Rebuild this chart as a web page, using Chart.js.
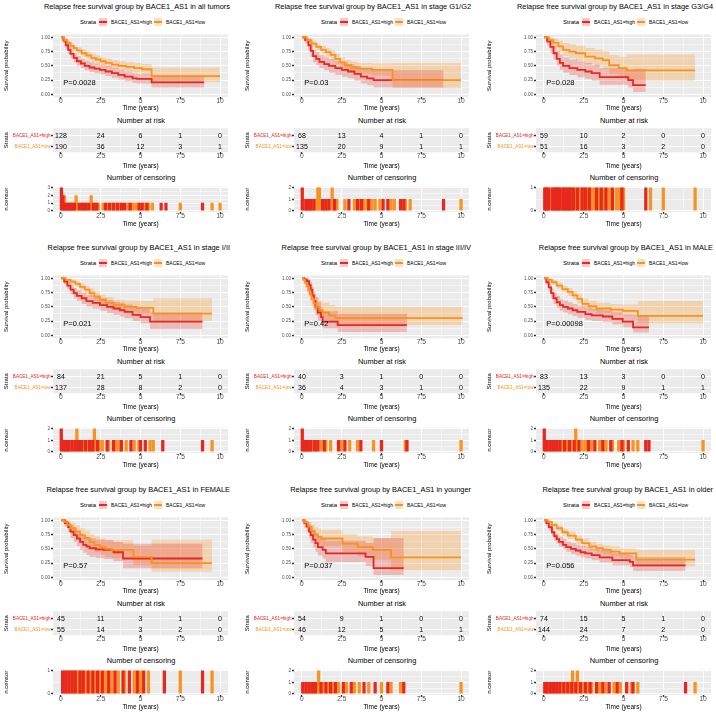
<!DOCTYPE html>
<html>
<head>
<meta charset="utf-8">
<title>Relapse free survival by BACE1_AS1</title>
<script src="https://cdn.jsdelivr.net/npm/chart.js@4.4.1/dist/chart.umd.min.js"></script>
<style>
  html, body { margin: 0; padding: 0; background: #fff; }
  body { position: relative; width: 716px; height: 715px; overflow: hidden;
         font-family: "Liberation Sans", Arial, Helvetica, sans-serif; color: #000; }
  canvas { position: absolute; }
  .txt { position: absolute; white-space: nowrap; line-height: 1; }
  .key { position: absolute; width: 8px; height: 8px; }
  .key i { position: absolute; left: 0; right: 0; top: 2.8px; height: 2.4px; }
</style>
</head>
<body>
<script>
// ---- data ----
const strataNames = ['BACE1_AS1=high', 'BACE1_AS1=low'];
const strataColors = ['#E8271E', '#F7931E'];
const bandColors = ['rgba(232,39,30,0.25)', 'rgba(247,147,30,0.28)'];

const panelTitles = [
  'Relapse free survival group by BACE1_AS1 in all tumors',
  'Relapse free survival group by BACE1_AS1 in stage G1/G2',
  'Relapse free survival group by BACE1_AS1 in stage G3/G4',
  'Relapse free survival group by BACE1_AS1 in stage I/II',
  'Relapse free survival group by BACE1_AS1 in stage III/IV',
  'Relapse free survival group by BACE1_AS1 in MALE',
  'Relapse free survival group by BACE1_AS1 in FEMALE',
  'Relapse free survival group by BACE1_AS1 in younger',
  'Relapse free survival group by BACE1_AS1 in older'
];
const pValues = ['P=0.0028', 'P=0.03', 'P=0.028', 'P=0.021', 'P=0.42', 'P=0.00098', 'P=0.57', 'P=0.037', 'P=0.056'];

const timeTicks = [0, 2.5, 5, 7.5, 10];
const timeGrid = [0, 1.25, 2.5, 3.75, 5, 6.25, 7.5, 8.75, 10];
const survGrid = [0, 0.125, 0.25, 0.375, 0.5, 0.625, 0.75, 0.875, 1];

const riskHigh = [[128, 24, 6, 1, 0], [68, 13, 4, 1, 0], [59, 10, 2, 0, 0], [84, 21, 5, 1, 0], [40, 3, 1, 0, 0],
                  [83, 13, 3, 0, 0], [45, 11, 3, 1, 0], [54, 9, 1, 0, 0], [74, 15, 5, 1, 0]];
const riskLow = [[190, 36, 12, 3, 1], [135, 20, 9, 1, 1], [51, 16, 3, 2, 0], [137, 28, 8, 2, 0], [36, 4, 3, 1, 0],
                 [135, 22, 9, 1, 1], [55, 14, 3, 2, 0], [46, 12, 5, 1, 1], [144, 24, 7, 2, 0]];

// Kaplan-Meier steps: time, survival, lower and upper confidence limits
const highT = [
  [0, 0.15, 0.3, 0.45, 0.6, 0.8, 1.0, 1.25, 1.5, 1.8, 2.1, 2.45, 2.8, 3.2, 3.6, 4.0, 4.5, 4.8, 5.7, 9.0],
  [0, 0.2, 0.4, 0.55, 0.7, 0.9, 1.1, 1.4, 1.7, 2.1, 2.5, 2.9, 3.3, 3.7, 4.1, 4.5, 8.9],
  [0, 0.2, 0.4, 0.6, 0.8, 1.0, 1.2, 1.6, 2.1, 2.6, 3.0, 3.5, 5.3, 5.6, 6.4],
  [0, 0.2, 0.4, 0.6, 0.8, 1.0, 1.3, 1.6, 2.0, 2.45, 2.9, 3.3, 3.7, 4.0, 4.5, 5.0, 5.6, 8.9],
  [0, 0.15, 0.3, 0.45, 0.55, 0.65, 0.75, 0.85, 1.0, 1.2, 1.3, 2.25, 6.6],
  [0, 0.15, 0.3, 0.45, 0.6, 0.8, 1.0, 1.2, 1.5, 1.8, 2.1, 2.6, 3.0, 3.7, 4.3, 4.95, 5.6, 6.6],
  [0, 0.25, 0.45, 0.6, 0.8, 1.0, 1.2, 1.4, 1.6, 1.8, 2.2, 2.7, 3.3, 3.9, 8.9],
  [0, 0.15, 0.3, 0.45, 0.55, 0.7, 0.85, 1.0, 1.3, 1.5, 4.0, 4.5, 6.4],
  [0, 0.15, 0.3, 0.5, 0.65, 0.8, 0.95, 1.2, 1.4, 1.7, 2.0, 2.3, 2.6, 3.0, 3.5, 4.3, 5.4, 5.6, 8.9]
];
const highS = [
  [1, 0.94, 0.86, 0.78, 0.71, 0.64, 0.58, 0.54, 0.50, 0.47, 0.45, 0.43, 0.40, 0.37, 0.34, 0.31, 0.28, 0.27, 0.21, 0.21],
  [1, 0.95, 0.86, 0.76, 0.67, 0.62, 0.57, 0.53, 0.50, 0.46, 0.43, 0.40, 0.36, 0.31, 0.28, 0.25, 0.25],
  [1, 0.93, 0.83, 0.72, 0.62, 0.55, 0.50, 0.46, 0.43, 0.40, 0.37, 0.30, 0.25, 0.16, 0.16],
  [1, 0.94, 0.87, 0.80, 0.74, 0.69, 0.65, 0.60, 0.57, 0.53, 0.50, 0.47, 0.44, 0.41, 0.36, 0.32, 0.24, 0.24],
  [1, 0.98, 0.95, 0.88, 0.80, 0.70, 0.60, 0.50, 0.40, 0.32, 0.24, 0.18, 0.18],
  [1, 0.93, 0.84, 0.74, 0.65, 0.58, 0.53, 0.50, 0.47, 0.44, 0.41, 0.37, 0.35, 0.33, 0.29, 0.24, 0.14, 0.14],
  [1, 0.95, 0.88, 0.80, 0.74, 0.68, 0.62, 0.57, 0.54, 0.51, 0.49, 0.48, 0.44, 0.33, 0.33],
  [1, 0.95, 0.89, 0.80, 0.74, 0.66, 0.60, 0.53, 0.48, 0.42, 0.36, 0.16, 0.16],
  [1, 0.95, 0.88, 0.79, 0.72, 0.67, 0.62, 0.57, 0.53, 0.50, 0.47, 0.44, 0.42, 0.39, 0.35, 0.30, 0.27, 0.21, 0.21]
];
const highLo = [
  [1, 0.90, 0.80, 0.71, 0.63, 0.56, 0.50, 0.46, 0.42, 0.39, 0.37, 0.35, 0.32, 0.29, 0.26, 0.23, 0.20, 0.19, 0.12, 0.12],
  [1, 0.89, 0.78, 0.66, 0.56, 0.51, 0.46, 0.42, 0.38, 0.34, 0.31, 0.28, 0.24, 0.19, 0.16, 0.12, 0.12],
  [1, 0.86, 0.73, 0.61, 0.50, 0.43, 0.38, 0.34, 0.30, 0.27, 0.24, 0.17, 0.12, 0.04, 0.04],
  [1, 0.89, 0.81, 0.72, 0.65, 0.60, 0.55, 0.50, 0.47, 0.43, 0.39, 0.36, 0.33, 0.30, 0.25, 0.21, 0.11, 0.11],
  [1, 0.93, 0.88, 0.78, 0.68, 0.56, 0.45, 0.35, 0.25, 0.18, 0.12, 0.06, 0.06],
  [1, 0.88, 0.76, 0.65, 0.55, 0.48, 0.43, 0.40, 0.37, 0.34, 0.31, 0.27, 0.25, 0.23, 0.19, 0.14, 0.05, 0.05],
  [1, 0.89, 0.79, 0.69, 0.62, 0.55, 0.48, 0.43, 0.39, 0.36, 0.34, 0.32, 0.28, 0.16, 0.16],
  [1, 0.87, 0.79, 0.68, 0.60, 0.52, 0.45, 0.38, 0.33, 0.27, 0.20, 0.04, 0.04],
  [1, 0.91, 0.82, 0.72, 0.64, 0.59, 0.54, 0.49, 0.45, 0.41, 0.38, 0.35, 0.33, 0.30, 0.26, 0.21, 0.18, 0.11, 0.11]
];
const highHi = [
  [1, 0.98, 0.92, 0.85, 0.79, 0.72, 0.67, 0.63, 0.59, 0.56, 0.54, 0.52, 0.49, 0.46, 0.43, 0.40, 0.37, 0.36, 0.33, 0.33],
  [1, 1.0, 0.95, 0.86, 0.78, 0.74, 0.69, 0.65, 0.62, 0.58, 0.56, 0.53, 0.50, 0.46, 0.44, 0.42, 0.42],
  [1, 1.0, 0.94, 0.85, 0.76, 0.70, 0.65, 0.61, 0.58, 0.55, 0.52, 0.46, 0.43, 0.45, 0.45],
  [1, 0.99, 0.94, 0.88, 0.83, 0.79, 0.75, 0.71, 0.68, 0.65, 0.62, 0.59, 0.57, 0.54, 0.50, 0.46, 0.40, 0.40],
  [1, 1.0, 1.0, 0.98, 0.93, 0.85, 0.76, 0.67, 0.58, 0.50, 0.42, 0.38, 0.38],
  [1, 0.98, 0.91, 0.83, 0.75, 0.69, 0.64, 0.61, 0.58, 0.55, 0.52, 0.48, 0.46, 0.44, 0.40, 0.36, 0.35, 0.35],
  [1, 1.0, 0.97, 0.92, 0.87, 0.82, 0.77, 0.73, 0.70, 0.68, 0.66, 0.65, 0.62, 0.59, 0.59],
  [1, 1.0, 0.98, 0.93, 0.89, 0.83, 0.78, 0.73, 0.69, 0.64, 0.60, 0.69, 0.69],
  [1, 0.99, 0.94, 0.87, 0.80, 0.76, 0.71, 0.67, 0.63, 0.60, 0.57, 0.55, 0.53, 0.50, 0.47, 0.42, 0.39, 0.35, 0.35]
];

const lowT = [
  [0, 0.2, 0.4, 0.6, 0.8, 1.0, 1.3, 1.6, 1.9, 2.2, 2.5, 2.8, 3.2, 3.6, 4.1, 4.6, 5.1, 5.7, 10.0],
  [0, 0.3, 0.6, 0.9, 1.2, 1.5, 1.8, 2.1, 2.4, 2.7, 3.1, 3.5, 4.4, 5.7, 10.0],
  [0, 0.3, 0.6, 0.9, 1.2, 1.6, 2.0, 2.6, 3.2, 3.7, 4.1, 4.7, 5.2, 9.5],
  [0, 0.3, 0.6, 0.9, 1.2, 1.5, 1.8, 2.1, 2.45, 2.8, 3.3, 4.0, 4.75, 5.8, 9.5],
  [0, 0.1, 0.2, 0.3, 0.4, 0.5, 0.6, 0.75, 0.9, 1.1, 1.3, 1.7, 2.1, 10.1],
  [0, 0.25, 0.5, 0.8, 1.15, 1.5, 1.8, 2.1, 2.4, 2.8, 3.3, 4.2, 4.95, 5.9, 10.0],
  [0, 0.2, 0.4, 0.6, 0.9, 1.2, 1.5, 1.8, 2.1, 2.45, 2.8, 3.2, 4.55, 5.7, 9.5],
  [0, 0.2, 0.4, 0.6, 0.8, 1.0, 1.2, 2.55, 3.5, 4.45, 5.6, 10.0],
  [0, 0.25, 0.5, 0.8, 1.15, 1.5, 2.0, 2.4, 2.85, 3.3, 3.7, 4.2, 4.75, 5.8, 9.5]
];
const lowS = [
  [1, 0.95, 0.90, 0.85, 0.81, 0.77, 0.72, 0.68, 0.64, 0.61, 0.58, 0.55, 0.52, 0.50, 0.48, 0.46, 0.44, 0.32, 0.32],
  [1, 0.95, 0.89, 0.83, 0.78, 0.74, 0.69, 0.62, 0.56, 0.51, 0.47, 0.45, 0.43, 0.25, 0.25],
  [1, 0.95, 0.90, 0.84, 0.78, 0.75, 0.72, 0.66, 0.63, 0.60, 0.51, 0.46, 0.42, 0.42],
  [1, 0.97, 0.94, 0.90, 0.85, 0.80, 0.74, 0.68, 0.62, 0.57, 0.53, 0.50, 0.48, 0.38, 0.38],
  [1, 0.97, 0.92, 0.86, 0.79, 0.72, 0.64, 0.56, 0.49, 0.44, 0.40, 0.35, 0.30, 0.30],
  [1, 0.97, 0.93, 0.87, 0.81, 0.76, 0.70, 0.64, 0.55, 0.51, 0.47, 0.45, 0.43, 0.34, 0.34],
  [1, 0.97, 0.92, 0.86, 0.80, 0.74, 0.69, 0.62, 0.57, 0.53, 0.50, 0.48, 0.36, 0.25, 0.25],
  [1, 0.96, 0.89, 0.81, 0.75, 0.71, 0.68, 0.59, 0.53, 0.48, 0.35, 0.35],
  [1, 0.97, 0.92, 0.86, 0.79, 0.73, 0.66, 0.60, 0.54, 0.51, 0.48, 0.45, 0.42, 0.31, 0.31]
];
const lowLo = [
  [1, 0.92, 0.86, 0.80, 0.75, 0.71, 0.66, 0.61, 0.57, 0.54, 0.51, 0.48, 0.45, 0.42, 0.40, 0.38, 0.36, 0.21, 0.21],
  [1, 0.91, 0.84, 0.77, 0.71, 0.66, 0.61, 0.54, 0.48, 0.43, 0.38, 0.36, 0.33, 0.11, 0.11],
  [1, 0.89, 0.82, 0.74, 0.67, 0.63, 0.59, 0.53, 0.49, 0.45, 0.36, 0.31, 0.24, 0.24],
  [1, 0.94, 0.90, 0.85, 0.79, 0.73, 0.67, 0.60, 0.54, 0.49, 0.44, 0.40, 0.38, 0.25, 0.25],
  [1, 0.92, 0.84, 0.76, 0.68, 0.60, 0.51, 0.43, 0.36, 0.31, 0.27, 0.22, 0.18, 0.18],
  [1, 0.94, 0.89, 0.82, 0.75, 0.69, 0.63, 0.56, 0.47, 0.43, 0.39, 0.36, 0.34, 0.21, 0.21],
  [1, 0.92, 0.85, 0.77, 0.70, 0.63, 0.57, 0.50, 0.44, 0.40, 0.36, 0.34, 0.21, 0.10, 0.10],
  [1, 0.89, 0.80, 0.70, 0.63, 0.58, 0.55, 0.44, 0.37, 0.31, 0.12, 0.12],
  [1, 0.94, 0.88, 0.81, 0.73, 0.67, 0.59, 0.53, 0.47, 0.43, 0.40, 0.37, 0.34, 0.19, 0.19]
];
const lowHi = [
  [1, 0.98, 0.94, 0.90, 0.86, 0.83, 0.79, 0.75, 0.71, 0.68, 0.65, 0.63, 0.60, 0.58, 0.56, 0.55, 0.53, 0.47, 0.47],
  [1, 0.99, 0.94, 0.89, 0.85, 0.81, 0.77, 0.71, 0.65, 0.60, 0.57, 0.55, 0.54, 0.55, 0.55],
  [1, 1.0, 0.98, 0.94, 0.90, 0.88, 0.85, 0.81, 0.78, 0.76, 0.69, 0.66, 0.70, 0.70],
  [1, 1.0, 0.98, 0.95, 0.91, 0.87, 0.82, 0.77, 0.71, 0.67, 0.63, 0.61, 0.60, 0.65, 0.65],
  [1, 1.0, 1.0, 0.97, 0.92, 0.86, 0.79, 0.72, 0.66, 0.61, 0.57, 0.53, 0.50, 0.50],
  [1, 1.0, 0.97, 0.92, 0.87, 0.83, 0.77, 0.72, 0.64, 0.60, 0.57, 0.55, 0.54, 0.60, 0.60],
  [1, 1.0, 0.99, 0.95, 0.91, 0.86, 0.82, 0.76, 0.72, 0.68, 0.66, 0.65, 0.55, 0.66, 0.66],
  [1, 1.0, 0.97, 0.92, 0.88, 0.85, 0.83, 0.76, 0.72, 0.68, 0.81, 0.81],
  [1, 1.0, 0.96, 0.91, 0.85, 0.80, 0.73, 0.68, 0.62, 0.59, 0.56, 0.54, 0.51, 0.48, 0.48]
];

// censoring events: time and count for each group
const censorMax = [3, 2, 1, 2, 2, 2, 1, 2, 2];
const censorHighT = [
  [0.03, 0.12, 0.25, 0.4, 0.55, 0.7, 0.85, 1.15, 1.35, 1.55, 1.75, 2.05, 2.25, 2.8, 3.05, 3.3, 3.55, 3.8, 4.0, 4.35, 4.9, 5.1, 5.4, 6.3, 6.6, 8.9],
  [0.02, 0.25, 0.4, 0.55, 0.75, 1.3, 1.5, 1.7, 2.05, 2.95, 3.5, 3.75, 4.2, 5.1, 5.4, 6.2, 6.4, 8.9],
  [0.05, 0.15, 0.3, 0.55, 0.7, 0.8, 0.9, 1.0, 1.2, 1.35, 1.5, 1.65, 1.85, 2.1, 2.4, 2.6, 2.85, 3.3, 3.6, 3.9, 4.3, 4.9, 6.4],
  [0.02, 0.2, 0.35, 0.5, 0.7, 0.9, 1.1, 1.3, 1.55, 1.8, 2.0, 2.3, 2.9, 3.3, 3.8, 4.4, 5.0, 5.3, 6.4, 8.9],
  [0.02, 0.2, 0.35, 0.55, 0.8, 1.0, 1.4, 2.3, 2.7, 3.7, 5.0, 6.6],
  [0.02, 0.2, 0.4, 0.6, 0.8, 1.0, 1.3, 1.6, 1.9, 2.2, 2.8, 3.2, 3.7, 4.2, 4.9, 5.3, 6.4, 6.6],
  [0.1, 0.3, 0.5, 0.7, 0.9, 1.2, 1.4, 1.7, 2.0, 2.3, 2.6, 3.0, 3.4, 3.9, 4.3, 4.8, 5.2, 6.5, 8.9],
  [0.05, 0.25, 0.45, 0.65, 0.85, 1.2, 1.5, 1.8, 2.1, 2.6, 3.1, 3.9, 4.6, 5.4, 6.4],
  [0.05, 0.2, 0.4, 0.6, 0.8, 1.0, 1.25, 1.5, 1.75, 2.0, 2.3, 2.6, 2.9, 3.3, 3.7, 4.1, 4.6, 5.2, 5.6, 8.9]
];
const censorHighN = [
  [3, 2, 1, 1, 1, 1, 1, 1, 1, 1, 1, 1, 1, 1, 1, 1, 1, 1, 1, 1, 1, 1, 1, 1, 1, 1],
  [2, 1, 1, 1, 1, 1, 1, 1, 1, 1, 1, 1, 1, 1, 1, 1, 1, 1],
  [1, 1, 1, 1, 1, 1, 1, 1, 1, 1, 1, 1, 1, 1, 1, 1, 1, 1, 1, 1, 1, 1, 1],
  [2, 1, 1, 1, 1, 1, 1, 1, 1, 1, 1, 1, 1, 1, 1, 1, 1, 1, 1, 1],
  [2, 1, 1, 1, 1, 1, 1, 1, 1, 1, 1, 1],
  [2, 1, 1, 1, 1, 1, 1, 1, 1, 1, 1, 1, 1, 1, 1, 1, 1, 1],
  [1, 1, 1, 1, 1, 1, 1, 1, 1, 1, 1, 1, 1, 1, 1, 1, 1, 1, 1],
  [1, 1, 1, 1, 1, 1, 1, 1, 1, 1, 1, 1, 1, 1, 1],
  [1, 1, 1, 1, 1, 1, 1, 1, 1, 1, 1, 1, 1, 1, 1, 1, 1, 1, 1, 1]
];
const censorLowT = [
  [0.22, 0.32, 0.48, 0.62, 0.78, 0.95, 1.05, 1.25, 1.45, 1.65, 1.9, 2.0, 2.15, 2.35, 2.65, 2.95, 3.2, 3.45, 3.7, 4.2, 4.5, 4.7, 5.0, 5.25, 5.5, 5.75, 7.5, 9.5, 10.0],
  [0.15, 0.3, 0.5, 0.65, 0.85, 1.0, 1.1, 1.2, 1.4, 1.6, 1.9, 2.0, 2.2, 2.7, 3.3, 3.6, 3.9, 4.1, 4.4, 4.6, 4.9, 5.6, 5.8, 6.5, 6.8, 10.0],
  [0.1, 0.2, 0.4, 0.6, 1.1, 1.25, 1.45, 1.6, 1.75, 1.95, 2.2, 2.3, 2.5, 2.7, 2.95, 3.1, 3.45, 3.75, 4.1, 4.55, 4.75, 5.0, 6.7, 7.5, 9.5],
  [0.1, 0.28, 0.45, 0.6, 0.8, 1.0, 1.2, 1.4, 1.65, 1.9, 2.1, 2.4, 2.6, 3.0, 3.5, 3.7, 4.1, 4.6, 4.9, 5.6, 5.8, 9.5],
  [0.1, 0.25, 0.45, 0.65, 0.9, 1.2, 1.5, 1.8, 2.5, 3.0, 3.5, 4.5, 6.5, 10.0],
  [0.1, 0.3, 0.5, 0.7, 0.9, 1.1, 1.25, 1.45, 1.7, 2.0, 2.1, 2.4, 2.6, 3.0, 3.5, 3.9, 4.3, 4.7, 5.0, 5.6, 5.9, 10.0],
  [0.2, 0.4, 0.6, 0.8, 1.0, 1.1, 1.3, 1.5, 1.8, 2.1, 2.4, 2.8, 3.2, 3.6, 4.0, 4.6, 5.0, 5.5, 7.5, 9.5],
  [0.15, 0.35, 0.55, 0.75, 0.95, 1.05, 1.3, 1.6, 1.9, 2.3, 2.8, 3.3, 3.6, 4.2, 5.0, 5.6, 6.2, 10.0],
  [0.12, 0.3, 0.5, 0.7, 0.9, 1.1, 1.35, 1.6, 1.8, 2.1, 2.4, 2.75, 3.0, 3.5, 3.9, 4.4, 4.8, 5.5, 5.9, 9.5]
];
const censorLowN = [
  [2, 1, 1, 1, 1, 2, 1, 1, 1, 1, 2, 1, 1, 1, 1, 1, 1, 1, 1, 1, 1, 1, 1, 1, 1, 1, 1, 1, 1],
  [1, 1, 1, 1, 1, 2, 2, 1, 1, 1, 2, 1, 1, 1, 1, 1, 1, 1, 1, 1, 1, 1, 1, 1, 1, 1],
  [1, 1, 1, 1, 1, 1, 1, 1, 1, 1, 1, 1, 1, 1, 1, 1, 1, 1, 1, 1, 1, 1, 1, 1, 1],
  [1, 1, 1, 1, 1, 2, 1, 1, 1, 1, 2, 1, 1, 1, 1, 1, 1, 1, 1, 1, 1, 1],
  [1, 1, 1, 1, 1, 1, 1, 1, 1, 1, 1, 1, 1, 1],
  [1, 1, 1, 1, 1, 1, 1, 1, 1, 2, 1, 1, 1, 1, 1, 1, 1, 1, 1, 1, 1, 1],
  [1, 1, 1, 1, 1, 1, 1, 1, 1, 1, 1, 1, 1, 1, 1, 1, 1, 1, 1, 1],
  [1, 1, 1, 1, 1, 2, 1, 1, 1, 1, 1, 1, 1, 1, 1, 1, 1, 1],
  [1, 1, 1, 1, 1, 1, 1, 1, 2, 2, 1, 1, 1, 1, 1, 1, 1, 1, 1, 1]
];

// ---- layout ----
const FONT = '"Liberation Sans", Arial, Helvetica, sans-serif';
Chart.defaults.font.family = FONT;
const colX = [0, 241, 483];
const rowY = [0, 241, 483];
const keyX = [99, 154];

const panelBg = {
  id: 'panelBg',
  beforeDraw(chart) {
    const a = chart.chartArea, ctx = chart.ctx;
    ctx.save();
    ctx.fillStyle = '#EBEBEB';
    ctx.fillRect(a.left, a.top, a.right - a.left, a.bottom - a.top);
    ctx.restore();
  }
};

// writes ds.texts at each point of a dataset (risk numbers, p-value)
const pointTexts = {
  id: 'pointTexts',
  afterDatasetsDraw(chart) {
    const ctx = chart.ctx;
    chart.data.datasets.forEach((ds, di) => {
      if (!ds.texts) return;
      const meta = chart.getDatasetMeta(di);
      ctx.save();
      ctx.font = ds.textFont;
      ctx.fillStyle = ds.textColor;
      ctx.textAlign = ds.textAlign || 'center';
      ctx.textBaseline = 'middle';
      meta.data.forEach((pt, k) => ctx.fillText(String(ds.texts[k]), pt.x, pt.y));
      ctx.restore();
    });
  }
};

function addText(str, x, y, size, align, color) {
  const d = document.createElement('div');
  d.className = 'txt';
  d.textContent = str;
  d.style.fontSize = size + 'px';
  d.style.left = x + 'px';
  d.style.top = y + 'px';
  const tx = align === 'center' ? '-50%' : align === 'right' ? '-100%' : '0';
  d.style.transform = 'translate(' + tx + ', -50%)';
  if (color) d.style.color = color;
  document.body.appendChild(d);
}

function addKey(x, y, s) {
  const k = document.createElement('div');
  k.className = 'key';
  k.style.left = x + 'px';
  k.style.top = (y - 4) + 'px';
  k.style.background = bandColors[s];
  const line = document.createElement('i');
  line.style.background = strataColors[s];
  k.appendChild(line);
  document.body.appendChild(k);
}

function makeCanvas(x, y, w, h) {
  const c = document.createElement('canvas');
  c.width = w; c.height = h;
  c.style.left = x + 'px'; c.style.top = y + 'px';
  c.style.width = w + 'px'; c.style.height = h + 'px';
  document.body.appendChild(c);
  return c;
}

const tv = c => (c.tick ? c.tick.value : 0);
function gridOpts(isMajor) {
  return {
    color: '#FFFFFF',
    lineWidth: c => (isMajor(tv(c)) ? 1 : 0.5),
    tickLength: 2,
    tickWidth: c => (isMajor(tv(c)) ? 1.4 : 0),
    tickColor: c => (isMajor(tv(c)) ? '#333333' : 'rgba(0,0,0,0)')
  };
}
const isTimeMajor = v => timeTicks.includes(v);

function timeAxis(height, titlePad) {
  return {
    type: 'linear', min: -0.5, max: 10.5, offset: false,
    afterBuildTicks: s => { s.ticks = timeGrid.map(v => ({ value: v })); },
    afterFit: s => { s.height = height; },
    grid: Object.assign(gridOpts(isTimeMajor), { offset: false }),
    border: { display: false },
    ticks: { font: { size: 6.6, lineHeight: 1 }, color: '#4D4D4D', padding: -1.5,
             autoSkip: false, minRotation: 0, maxRotation: 0,
             callback: v => (isTimeMajor(v) ? String(v) : '') },
    title: { display: true, text: 'Time (years)', color: '#000',
             font: { size: 6.5, lineHeight: 1.2 }, padding: { top: 0, bottom: titlePad } }
  };
}

function yTitle(text) {
  return { display: true, text: text, color: '#000', font: { size: 6, lineHeight: 1.2 }, padding: { top: 3, bottom: 0 } };
}

function baseOptions(padTop, scales) {
  return {
    responsive: false, animation: false, events: [],
    layout: { padding: { left: 0, right: 4, top: padTop, bottom: 0 } },
    plugins: { legend: { display: false }, tooltip: { enabled: false } },
    scales: scales
  };
}

const pts = (T, V) => T.map((t, k) => ({ x: t, y: V[k] }));
function stepLine(T, V, color, width) {
  return { data: pts(T, V), borderColor: color, borderWidth: width, pointRadius: 0,
           stepped: 'before', fill: false, tension: 0 };
}

function survivalChart(i, x, y) {
  const canvas = makeCanvas(x, y, 232, 85);
  const isQuarter = v => Math.abs(v * 4 - Math.round(v * 4)) < 1e-6;
  new Chart(canvas, {
    type: 'line',
    data: {
      datasets: [
        stepLine(lowT[i], lowS[i], strataColors[1], 1.8),
        stepLine(highT[i], highS[i], strataColors[0], 1.8),
        stepLine(highT[i], highHi[i], 'rgba(0,0,0,0)', 0),
        Object.assign(stepLine(highT[i], highLo[i], 'rgba(0,0,0,0)', 0), { fill: '-1', backgroundColor: bandColors[0] }),
        stepLine(lowT[i], lowHi[i], 'rgba(0,0,0,0)', 0),
        Object.assign(stepLine(lowT[i], lowLo[i], 'rgba(0,0,0,0)', 0), { fill: '-1', backgroundColor: bandColors[1] }),
        { data: [{ x: 0.15, y: 0.2 }], pointRadius: 0, showLine: false,
          texts: [pValues[i]], textFont: '7.5px ' + FONT, textColor: '#000', textAlign: 'left' }
      ]
    },
    options: baseOptions(6.4, {
      x: timeAxis(15.8, 0.5),
      y: {
        type: 'linear', min: -0.05, max: 1.05,
        afterBuildTicks: s => { s.ticks = survGrid.map(v => ({ value: v })); },
        afterFit: s => { s.width = 53; },
        grid: gridOpts(isQuarter),
        border: { display: false },
        ticks: { font: { size: 4.6 }, color: '#4D4D4D', padding: 1, autoSkip: false,
                 callback: v => (isQuarter(v) ? v.toFixed(2) : '') },
        title: yTitle('Survival probability')
      }
    }),
    plugins: [panelBg, pointTexts]
  });
}

function riskChart(i, x, y) {
  const canvas = makeCanvas(x, y, 232, 46);
  const rows = [riskHigh[i], riskLow[i]];
  new Chart(canvas, {
    type: 'scatter',
    data: {
      datasets: strataNames.map((name, s) => ({
        data: timeTicks.map(t => ({ x: t, y: s + 1 })),
        pointRadius: 0, showLine: false,
        texts: rows[s], textFont: '7px ' + FONT, textColor: '#000'
      }))
    },
    options: baseOptions(2.7, {
      x: timeAxis(18.7, 0.4),
      y: {
        type: 'linear', min: 0.3, max: 2.5, reverse: true,
        afterBuildTicks: s => { s.ticks = [{ value: 1 }, { value: 2 }]; },
        afterFit: s => { s.width = 53; },
        grid: gridOpts(() => true),
        border: { display: false },
        ticks: { font: { size: 4.6 }, padding: 0.5, autoSkip: false,
                 color: c => strataColors[c.index] || '#4D4D4D',
                 callback: v => strataNames[v - 1] },
        title: yTitle('Strata')
      }
    }),
    plugins: [panelBg, pointTexts]
  });
}

function censorChart(i, x, y) {
  const canvas = makeCanvas(x, y, 232, 46);
  const m = censorMax[i];
  const yGrid = [];
  for (let v = 0; v <= m; v += 0.5) yGrid.push(v);
  new Chart(canvas, {
    type: 'bar',
    data: {
      datasets: [
        { data: pts(censorHighT[i], censorHighN[i]), backgroundColor: strataColors[0], barThickness: 2.6, grouped: false },
        { data: pts(censorLowT[i], censorLowN[i]), backgroundColor: strataColors[1], barThickness: 2.6, grouped: false }
      ]
    },
    options: baseOptions(1.8, {
      x: timeAxis(17.1, 0.8),
      y: {
        type: 'linear', min: -0.05 * m, max: 1.05 * m,
        afterBuildTicks: s => { s.ticks = yGrid.map(v => ({ value: v })); },
        afterFit: s => { s.width = 53; },
        grid: gridOpts(v => Number.isInteger(v)),
        border: { display: false },
        ticks: { font: { size: 4.6 }, color: '#4D4D4D', padding: 1, autoSkip: false,
                 callback: v => (Number.isInteger(v) ? String(v) : '') },
        title: yTitle('n.censor')
      }
    }),
    plugins: [panelBg]
  });
}

panelTitles.forEach((title, i) => {
  const ox = colX[i % 3], oy = rowY[Math.floor(i / 3)];
  addText(title, ox + 230, oy + 7, 7.4, 'right');
  addText('Strata', ox + 80, oy + 22, 6, 'left');
  strataNames.forEach((name, s) => {
    addKey(ox + keyX[s], oy + 22, s);
    addText(name, ox + keyX[s] + 12, oy + 22, 5, 'left');
  });
  addText('Number at risk', ox + 141, oy + 121, 7.4, 'center');
  addText('Number of censoring', ox + 141, oy + 178.3, 7.4, 'center');
  survivalChart(i, ox, oy + 28);
  riskChart(i, ox, oy + 125);
  censorChart(i, ox, oy + 183);
});
</script>
</body>
</html>
